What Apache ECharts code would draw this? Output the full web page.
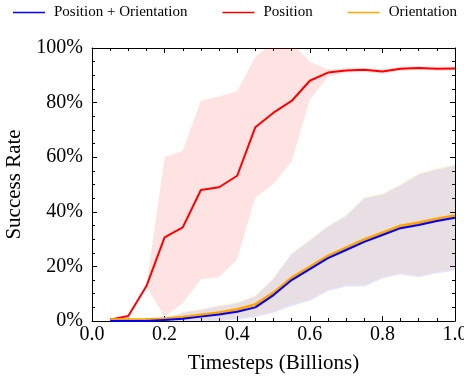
<!DOCTYPE html>
<html>
<head>
<meta charset="utf-8">
<script src="https://cdn.jsdelivr.net/npm/echarts@6/dist/echarts.min.js"></script>
<style>
  html, body { margin: 0; padding: 0; background: #fff; }
  #chart { width: 464px; height: 379px; }
</style>
</head>
<body>
<div id="chart"></div>
<script>
// timesteps in billions
const steps = [0.05, 0.10, 0.15, 0.20, 0.25, 0.30, 0.35, 0.40, 0.45, 0.50,
               0.55, 0.60, 0.65, 0.70, 0.75, 0.80, 0.85, 0.90, 0.95, 1.00];

// Position (red)
const posMean  = [0.5, 1.8, 12.8, 30.6, 34.3, 48, 49, 53.2, 71, 76.3, 80.6, 88, 91, 91.8, 92, 91.4, 92.4, 92.7, 92.4, 92.5];
const posUpper = [0.6, 2.2, 13, 60, 62.4, 80.7, 82.2, 84.2, 96.8, 102, 102, 95, 92.2, 92.6, 92.8, 92.2, 93.2, 93.4, 93.1, 93.2];
const posLower = [0.4, 1.4, 12.6, 1.6, 6.5, 15.3, 16, 22.6, 45.2, 50.2, 58.4, 81, 89.5, 91, 91.2, 90.6, 91.6, 92, 91.7, 91.8];

// Position + Orientation (blue)
const bothMean  = [0, 0, 0, 0.4, 0.8, 1.6, 2.4, 3.4, 5, 9.5, 15, 19, 23, 26, 29, 31.5, 34, 35.2, 36.6, 37.8];
const bothUpper = [0.3, 0.3, 0.3, 0.6, 3, 4.1, 5.4, 6.5, 9, 15.5, 24.5, 29.5, 34.5, 38.5, 45, 46.3, 49.7, 53.8, 55.5, 57];
const bothLower = [0, 0, 0, 0, 0, 0, 0, 0.5, 1.5, 3, 5.5, 7.4, 11, 12.6, 12.6, 15.6, 17, 16, 17.5, 18.4];

// Orientation (orange)
const oriMean  = [0.5, 0.5, 0.5, 0.8, 1.4, 2.2, 3, 4.2, 6, 10.3, 15.8, 19.8, 23.8, 26.8, 29.8, 32.3, 34.8, 36, 37.4, 38.6];
const oriUpper = [0.6, 0.6, 0.6, 1, 3.4, 4.6, 5.9, 7, 9.5, 16, 25, 30, 35, 39, 45.5, 46.8, 50.2, 54.3, 56, 57.5];
const oriLower = [0.3, 0.3, 0.3, 0.3, 0.3, 0.3, 0.3, 1, 2, 3.5, 6, 7.9, 11.5, 13.1, 13.1, 16.1, 17.5, 16.5, 18, 18.9];

const serif = "Liberation Serif";

function pairs(vals) {
  return steps.map((x, i) => [x, vals[i]]);
}

// shaded band drawn as one polygon through the axis scales
function band(lower, upper, color) {
  return {
    type: "custom",
    silent: true,
    clip: true,
    z: 1,
    data: [[steps[0], lower[0]]],
    encode: { x: 0, y: 1 },
    renderItem: (params, api) => {
      const pts = [];
      for (let i = 0; i < steps.length; i++) pts.push(api.coord([steps[i], upper[i]]));
      for (let i = steps.length - 1; i >= 0; i--) pts.push(api.coord([steps[i], lower[i]]));
      return { type: "polygon", shape: { points: pts }, style: { fill: color } };
    },
  };
}

const chart = echarts.init(document.getElementById("chart"));

const tickCommon = {
  axisTick: { show: true, inside: true, length: 5, lineStyle: { color: "#000" } },
  minorTick: { show: true, splitNumber: 4, length: 3, lineStyle: { color: "#000" } },
  axisLine: { show: true, onZero: false, lineStyle: { color: "#000", width: 1 } },
  splitLine: { show: false },
  minorSplitLine: { show: false },
};

chart.setOption({
  animation: false,
  textStyle: { fontFamily: serif },
  legend: {
    top: 0,
    left: 8,
    width: 460,
    icon: "rect",
    itemWidth: 32,
    itemHeight: 1.5,
    itemGap: 35,
    data: ["Position + Orientation", "Position", "Orientation"],
    textStyle: { fontFamily: serif, fontSize: 15, color: "#000", padding: [0, 0, 0, 4] },
  },
  grid: { left: 92, right: 9, top: 48, bottom: 58, outerBoundsMode: "none" },
  xAxis: [
    Object.assign({
      type: "value", min: 0, max: 1, interval: 0.2,
      name: "Timesteps (Billions)",
      nameLocation: "middle",
      nameGap: 32,
      nameTextStyle: { fontFamily: serif, fontSize: 21, color: "#000" },
      axisLabel: {
        color: "#000", fontFamily: serif, fontSize: 20, margin: 4,
        formatter: (v) => v.toFixed(1),
      },
    }, tickCommon),
    Object.assign({
      type: "value", min: 0, max: 1, interval: 0.2, position: "top",
      axisLabel: { show: false },
    }, tickCommon),
  ],
  yAxis: [
    Object.assign({
      type: "value", min: 0, max: 100, interval: 20,
      name: "Success Rate",
      nameLocation: "middle",
      nameGap: 66,
      nameTextStyle: { fontFamily: serif, fontSize: 21, color: "#000" },
      axisLabel: {
        color: "#000", fontFamily: serif, fontSize: 20, margin: 9,
        formatter: (v) => v + "%",
      },
    }, tickCommon),
    Object.assign({
      type: "value", min: 0, max: 100, interval: 20, position: "right",
      axisLabel: { show: false },
    }, tickCommon),
  ],
  series: [
    band(posLower, posUpper, "rgba(255,0,0,0.11)"),
    band(bothLower, bothUpper, "rgba(0,0,255,0.10)"),
    band(oriLower, oriUpper, "rgba(255,165,0,0.10)"),
    {
      name: "Position", type: "line", symbol: "none",
      lineStyle: { color: "#ff0000", width: 2 }, itemStyle: { color: "#ff0000" },
      data: pairs(posMean), z: 5,
    },
    {
      name: "Orientation", type: "line", symbol: "none",
      lineStyle: { color: "#ffa500", width: 3 }, itemStyle: { color: "#ffa500" },
      data: pairs(oriMean), z: 5,
    },
    {
      name: "Position + Orientation", type: "line", symbol: "none",
      lineStyle: { color: "#0000ff", width: 2 }, itemStyle: { color: "#0000ff" },
      data: pairs(bothMean), z: 6,
    },
  ],
});
</script>
</body>
</html>
